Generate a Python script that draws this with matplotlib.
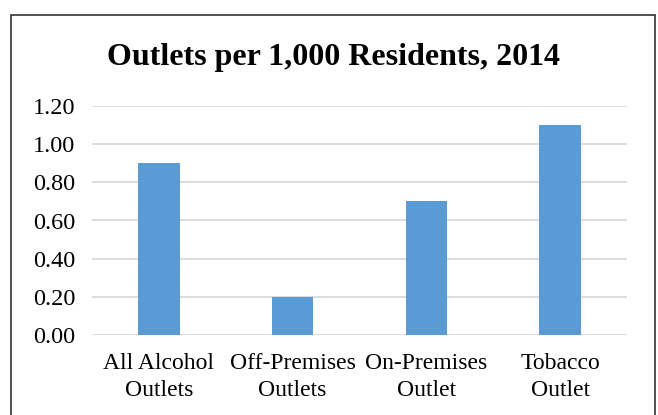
import matplotlib.pyplot as plt
from matplotlib.patches import Rectangle

# chart data
categories = ['All Alcohol\nOutlets', 'Off-Premises\nOutlets', 'On-Premises\nOutlet', 'Tobacco\nOutlet']
values = [0.90, 0.20, 0.70, 1.10]
yticks = [0.0, 0.2, 0.4, 0.6, 0.8, 1.0, 1.2]
title = 'Outlets per 1,000 Residents, 2014'

plt.rcParams['font.family'] = ['Liberation Serif', 'DejaVu Serif']

fig = plt.figure(figsize=(6.58, 4.15), dpi=100)
ax = fig.add_axes([92 / 658, 1 - 335 / 415, 535 / 658, 229 / 415])

# bars
ax.bar(range(len(values)), values, width=0.31, color='#5B9BD5', zorder=3)
ax.set_xlim(-0.5, len(values) - 0.5)
ax.set_ylim(0, 1.2)

ax.set_yticks(yticks)
ax.set_yticklabels(['%.2f' % v for v in yticks], fontsize=17.5)
ax.set_xticks(range(len(categories)))
ax.set_xticklabels(categories, fontsize=17, linespacing=1.35)
ax.tick_params(length=0, colors='black')
ax.tick_params(axis='x', pad=13)
ax.tick_params(axis='y', pad=12)

# gridlines
ax.grid(axis='y', color='#D9D9D9', linewidth=1.3, zorder=0)
for spine in ax.spines.values():
    spine.set_visible(False)

fig.text(0.507, 1 - 58 / 415, title, ha='center', va='center', fontsize=23, fontweight='bold')

# outer border
fig.patches.append(Rectangle((11 / 658, -0.05), 644 / 658, 1.05 - 15 / 415,
                             transform=fig.transFigure, fill=False,
                             edgecolor='#333333', linewidth=1.2))

fig.savefig('out.png', dpi=100)
